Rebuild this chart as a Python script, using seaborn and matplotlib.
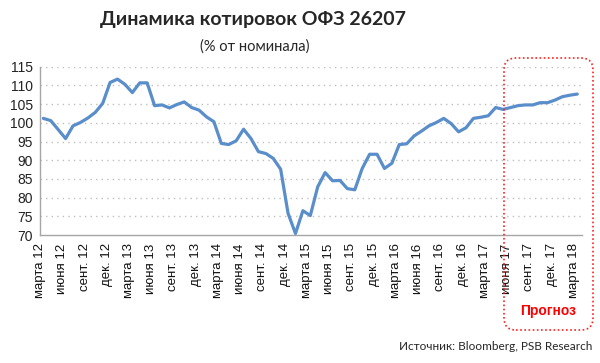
import matplotlib
matplotlib.use("Agg")
import matplotlib.pyplot as plt
import matplotlib.transforms as mtransforms
from matplotlib.patches import FancyBboxPatch
import numpy as np
import pandas as pd
import seaborn as sns

# monthly quotes, % of face value, March 2012 - March 2018
quotes = [
    101.2, 100.6, 98.2, 95.8, 99.2, 100.1, 101.3, 102.8, 105.2, 110.8,
    111.7, 110.3, 108.1, 110.7, 110.7, 104.6, 104.8, 104.0, 104.9, 105.6,
    104.1, 103.4, 101.6, 100.3, 94.5, 94.2, 95.2, 98.3, 95.8, 92.3,
    91.8, 90.5, 87.6, 75.8, 70.4, 76.5, 75.2, 82.9, 86.7, 84.5,
    84.6, 82.4, 82.1, 87.8, 91.6, 91.6, 87.8, 89.2, 94.2, 94.4,
    96.5, 97.8, 99.2, 100.1, 101.2, 99.8, 97.6, 98.7, 101.2, 101.5,
    101.9, 104.1, 103.6, 104.1, 104.6, 104.8, 104.8, 105.4, 105.4, 106.1,
    107.0, 107.4, 107.7,
]
tick_labels = [
    "марта 12", "июня 12", "сент. 12", "дек. 12",
    "марта 13", "июня 13", "сент. 13", "дек. 13",
    "марта 14", "июня 14", "сент. 14", "дек. 14",
    "марта 15", "июня 15", "сент. 15", "дек. 15",
    "марта 16", "июня 16", "сент. 16", "дек. 16",
    "марта 17", "июня 17", "сент. 17", "дек. 17",
    "марта 18",
]
y_ticks = [70, 75, 80, 85, 90, 95, 100, 105, 110, 115]

df = pd.DataFrame({"month": np.arange(len(quotes)), "quote": quotes})

sns.set_style("white")
plt.rcParams["font.family"] = ["Lato", "DejaVu Sans"]
tick_font = ["Liberation Sans", "DejaVu Sans"]

fig = plt.figure(figsize=(6, 3.63), dpi=100)
ax = fig.add_axes([0.0667, 0.3526, 0.9028, 0.4634])

sns.lineplot(data=df, x="month", y="quote", ax=ax, color="#5A8ECB", linewidth=2.3)

ax.set_xlim(-0.45, 72.6)
ax.set_ylim(70, 115)
ax.set_yticks(y_ticks)
ax.set_yticklabels([str(v) for v in y_ticks], fontsize=10, color="#222222",
                   family=tick_font)
ax.set_xticks(np.arange(0, len(quotes), 3) - 0.45)
ax.set_xticklabels(tick_labels, rotation=90, fontsize=9.5, color="#111111",
                   family=tick_font)
# labels sit a little to the right of their tick marks
shift = mtransforms.ScaledTranslation(4 / 100, 0, fig.dpi_scale_trans)
for lab in ax.get_xticklabels():
    lab.set_transform(lab.get_transform() + shift)
ax.set_xlabel("")
ax.set_ylabel("")

for v in y_ticks[1:]:
    ax.axhline(v, color="#BFBFBF", linestyle=(0, (1, 3)), linewidth=1, zorder=0)

for side in ["top", "right"]:
    ax.spines[side].set_visible(False)
for side in ["left", "bottom"]:
    ax.spines[side].set_color("#A6A6A6")
    ax.spines[side].set_linewidth(1)
ax.tick_params(axis="x", direction="out", length=4, width=1, color="#A6A6A6", pad=2)
ax.tick_params(axis="y", direction="out", length=3, width=1, color="#A6A6A6", pad=2)

# forecast frame (figure inches)
box = FancyBboxPatch((5.04, 0.33), 0.89, 2.72,
                     boxstyle="round,pad=0,rounding_size=0.12",
                     transform=fig.dpi_scale_trans, fill=False,
                     edgecolor="#FF2020", linestyle=(0, (1, 1.5)), linewidth=1.2,
                     clip_on=False)
fig.add_artist(box)
fig.text(0.913, 1 - 311 / 363, "Прогноз", color="#FF0000", fontsize=10,
         fontweight="bold", ha="center", va="center", family=tick_font)

fig.text(0.422, 1 - 20 / 363, "Динамика котировок ОФЗ 26207", fontsize=14,
         fontweight="bold", ha="center", va="center")
fig.text(0.425, 1 - 47 / 363, "(% от номинала)", fontsize=10.5,
         ha="center", va="center")
fig.text(0.987, 1 - 346 / 363, "Источник: Bloomberg, PSB Research", fontsize=8.5,
         ha="right", va="center")

fig.savefig("out.png", dpi=100)
